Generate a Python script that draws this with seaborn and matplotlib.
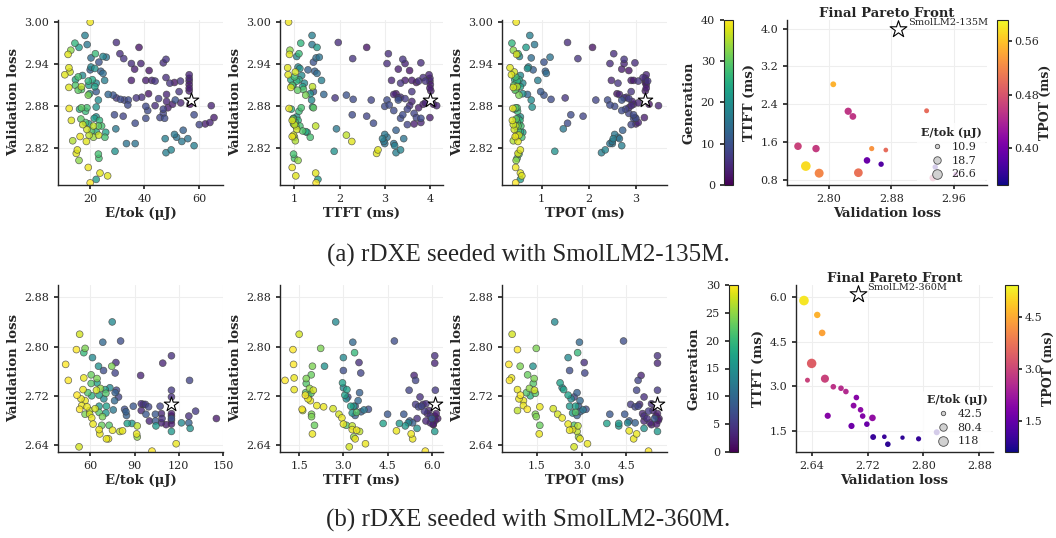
import matplotlib
matplotlib.use('Agg')
import matplotlib.pyplot as plt
from matplotlib.lines import Line2D
import numpy as np
import pandas as pd
import seaborn as sns

# ---- (a) all candidates, search seeded with SmolLM2-135M ----
loss_a = [3.000, 2.981, 2.970, 2.964, 2.968, 2.960, 2.954, 2.955, 2.951, 2.950,
          2.949, 2.943, 2.936, 2.935, 2.934, 2.932, 2.929, 2.925, 2.924, 2.922,
          2.918, 2.930, 2.927, 2.917, 2.916, 2.918, 2.913, 2.908, 2.910, 2.908,
          2.907, 2.903, 2.904, 2.896, 2.898, 2.910, 2.901, 2.889, 2.879, 2.877,
          2.878, 2.876, 2.878, 2.873, 2.860, 2.862, 2.854, 2.857, 2.855, 2.863,
          2.865, 2.860, 2.852, 2.852, 2.852, 2.847, 2.845, 2.844, 2.843, 2.837,
          2.839, 2.839, 2.836, 2.830, 2.836, 2.831, 2.818, 2.813, 2.812, 2.806,
          2.803, 2.793, 2.785, 2.781, 2.776, 2.771, 2.816, 2.971, 2.955, 2.948,
          2.941, 2.964, 2.941, 2.933, 2.931, 2.917, 2.917, 2.917, 2.916, 2.942,
          2.947, 2.921, 2.913, 2.914, 2.916, 2.925, 2.920, 2.916, 2.911, 2.906,
          2.902, 2.901, 2.897, 2.898, 2.892, 2.893, 2.892, 2.897, 2.896, 2.890,
          2.889, 2.889, 2.882, 2.868, 2.866, 2.856, 2.880, 2.874, 2.863, 2.881,
          2.891, 2.864, 2.876, 2.870, 2.863, 2.878, 2.883, 2.889, 2.887, 2.885,
          2.868, 2.883, 2.854, 2.855, 2.857, 2.864, 2.881, 2.827, 2.827, 2.834,
          2.814, 2.818, 2.840, 2.836, 2.830, 2.846, 2.834, 2.824, 2.848]
etok_a = [20.1, 18.2, 14.5, 16.0, 19.0, 13.0, 12.0, 22.0, 24.8, 26.0,
          20.4, 23.3, 20.4, 12.3, 21.8, 20.1, 12.7, 10.8, 17.3, 15.7,
          14.7, 24.0, 24.8, 25.4, 19.4, 20.9, 22.3, 21.8, 19.6, 16.9,
          12.3, 15.7, 16.9, 19.4, 19.9, 14.7, 22.3, 23.1, 22.3, 12.4,
          16.9, 16.2, 18.9, 18.4, 13.2, 16.7, 17.4, 18.4, 19.6, 21.6,
          22.3, 23.5, 24.3, 21.3, 23.1, 18.9, 20.6, 22.3, 25.8, 16.4,
          19.7, 23.2, 25.5, 18.7, 21.3, 13.7, 15.4, 15.0, 23.1, 23.3,
          16.0, 19.4, 23.7, 26.5, 22.3, 20.1, 29.2, 29.7, 31.0, 32.4,
          35.2, 38.0, 38.7, 36.4, 41.7, 35.2, 40.5, 42.7, 43.9, 46.9,
          47.9, 47.9, 49.3, 51.0, 53.2, 56.4, 56.4, 56.4, 56.4, 56.4,
          56.4, 52.7, 48.1, 41.5, 37.0, 39.0, 29.7, 26.7, 28.5, 31.2,
          32.6, 34.1, 33.9, 29.0, 32.2, 36.6, 40.5, 41.2, 40.5, 43.9,
          45.2, 45.7, 46.9, 46.9, 47.4, 48.6, 50.3, 51.3, 48.1, 53.3,
          58.2, 56.7, 60.1, 62.3, 64.0, 65.5, 64.5, 33.4, 36.6, 47.6,
          47.9, 49.8, 51.0, 51.8, 53.7, 54.2, 55.9, 58.2, 29.5]
ttft_a = [0.87, 1.39, 1.14, 1.50, 1.39, 0.90, 0.89, 1.10, 1.05, 1.55,
          1.48, 1.42, 1.08, 0.85, 1.12, 1.30, 1.02, 0.86, 1.16, 1.00,
          0.92, 1.45, 1.50, 1.60, 1.05, 1.10, 1.22, 1.18, 0.97, 1.40,
          0.92, 1.07, 1.20, 1.25, 1.35, 0.95, 1.42, 1.38, 1.40, 0.88,
          1.42, 0.93, 1.15, 1.10, 0.95, 0.97, 1.00, 1.02, 0.98, 0.98,
          1.05, 1.08, 1.12, 1.47, 1.03, 1.05, 1.18, 1.25, 1.28, 0.95,
          2.15, 0.98, 1.35, 2.27, 1.00, 1.02, 2.85, 2.82, 0.98, 1.00,
          1.08, 0.95, 1.47, 1.03, 1.52, 1.48, 1.88, 1.97, 3.08, 2.29,
          3.05, 2.60, 3.45, 3.30, 3.55, 3.45, 3.60, 3.15, 3.75, 3.80,
          3.40, 3.85, 3.35, 3.70, 3.90, 3.98, 4.00, 4.00, 4.01, 4.00,
          4.02, 3.60, 3.20, 3.25, 3.30, 3.35, 1.90, 1.65, 2.15, 2.30,
          2.70, 3.05, 3.10, 2.28, 2.60, 2.75, 3.00, 3.20, 3.35, 3.55,
          3.45, 3.70, 3.50, 3.65, 3.80, 3.75, 3.85, 3.30, 3.60, 3.90,
          3.40, 4.08, 3.50, 3.65, 3.80, 4.00, 4.15, 3.00, 3.20, 2.95,
          3.25, 3.35, 3.00, 3.05, 2.98, 3.25, 3.42, 3.22, 1.93]
tpot_a = [0.46, 0.75, 0.37, 0.67, 0.85, 0.40, 0.47, 0.50, 0.53, 1.18,
          0.78, 1.05, 0.72, 0.33, 0.70, 0.82, 0.42, 0.36, 0.55, 0.45,
          0.43, 1.08, 1.10, 0.92, 0.48, 0.52, 0.60, 0.55, 0.50, 0.48,
          0.40, 0.44, 0.46, 0.52, 0.60, 0.41, 0.98, 0.78, 0.80, 0.39,
          0.45, 0.43, 0.48, 0.49, 0.38, 0.46, 0.40, 0.48, 0.52, 0.50,
          0.55, 0.54, 0.56, 0.45, 0.50, 0.42, 0.50, 0.55, 0.60, 0.44,
          0.47, 0.52, 0.58, 0.50, 0.46, 0.40, 0.55, 0.50, 0.52, 0.48,
          0.46, 0.45, 0.55, 0.58, 0.55, 0.45, 1.28, 1.55, 2.53, 1.77,
          2.45, 2.08, 2.75, 2.70, 2.85, 2.90, 2.95, 2.48, 3.05, 2.98,
          2.75, 3.15, 2.62, 3.20, 3.25, 3.22, 3.20, 3.21, 3.22, 3.22,
          3.20, 2.90, 2.65, 2.60, 2.75, 2.80, 1.50, 0.70, 1.05, 1.20,
          2.15, 2.40, 2.45, 1.62, 1.88, 1.55, 2.55, 2.70, 2.95, 2.90,
          2.85, 2.98, 2.78, 2.85, 3.00, 2.85, 2.95, 2.70, 2.92, 3.05,
          2.95, 3.28, 2.90, 3.00, 3.05, 3.18, 3.48, 2.50, 2.45, 2.52,
          2.27, 2.35, 2.55, 2.62, 2.50, 2.72, 2.65, 2.70, 1.46]
gen_a = [39, 17, 26, 22, 16, 33, 38, 27, 18, 15,
         14, 10, 18, 38, 20, 12, 37, 38, 19, 28,
         24, 12, 14, 17, 26, 24, 19, 23, 22, 36,
         38, 30, 29, 32, 20, 29, 11, 19, 20, 39,
         30, 25, 28, 27, 38, 30, 37, 28, 22, 22,
         20, 26, 28, 36, 30, 37, 29, 25, 23, 39,
         36, 37, 28, 38, 34, 35, 38, 38, 28, 28,
         33, 39, 38, 38, 22, 40, 20, 5, 5, 6,
         5, 2, 4, 3, 2, 3, 3, 4, 6, 5,
         6, 5, 6, 2, 6, 4, 4, 3, 3, 3,
         3, 6, 4, 2, 6, 5, 6, 13, 10, 9,
         8, 9, 9, 9, 8, 9, 9, 9, 9, 5,
         7, 8, 8, 8, 9, 3, 3, 10, 4, 4,
         9, 2, 8, 3, 4, 3, 4, 15, 15, 17,
         17, 18, 16, 15, 16, 12, 15, 17, 16]

# ---- (b) all candidates, search seeded with SmolLM2-360M ----
loss_b = [2.840, 2.820, 2.807, 2.809, 2.795, 2.797, 2.790, 2.782, 2.771, 2.768,
          2.768, 2.761, 2.774, 2.754, 2.757, 2.749, 2.748, 2.745, 2.740, 2.730,
          2.741, 2.732, 2.730, 2.733, 2.729, 2.729, 2.721, 2.715, 2.712, 2.725,
          2.720, 2.721, 2.715, 2.724, 2.725, 2.718, 2.712, 2.703, 2.703, 2.704,
          2.702, 2.699, 2.696, 2.698, 2.690, 2.690, 2.693, 2.684, 2.692, 2.697,
          2.698, 2.686, 2.674, 2.672, 2.672, 2.665, 2.658, 2.664, 2.662, 2.663,
          2.650, 2.650, 2.637, 2.694, 2.688, 2.675, 2.675, 2.703, 2.671, 2.658, 2.653,
          2.753, 2.707, 2.706, 2.706, 2.696, 2.690, 2.702, 2.679, 2.630, 2.690,
          2.679, 2.671, 2.703, 2.691, 2.683, 2.676, 2.773, 2.673, 2.785, 2.729,
          2.718, 2.691, 2.687, 2.680, 2.674, 2.662, 2.683, 2.642, 2.676, 2.676,
          2.687, 2.667, 2.745, 2.695, 2.683]
etok_b = [74.8, 52.7, 68.4, 80.5, 50.5, 56.4, 55.5, 61.4, 43.2, 65.5,
          74.5, 68.9, 77.3, 60.5, 76.8, 55.5, 64.5, 45.0, 60.5, 55.0,
          64.5, 66.8, 70.0, 73.2, 77.7, 64.1, 50.9, 53.6, 56.4, 58.2,
          60.9, 65.9, 69.1, 70.5, 76.8, 79.1, 76.4, 70.9, 65.9, 54.1,
          57.7, 63.2, 59.5, 52.7, 56.4, 59.5, 65.9, 60.9, 70.5, 75.5,
          83.2, 68.2, 61.8, 67.7, 72.7, 65.9, 66.4, 75.0, 80.0, 81.8,
          70.9, 72.3, 52.3, 84.1, 84.5, 85.0, 88.2, 89.1, 91.8, 91.4, 91.8,
          94.1, 94.5, 95.9, 97.3, 94.5, 97.7, 99.5, 100.0, 101.8, 104.1,
          104.1, 104.5, 107.3, 108.2, 108.6, 108.2, 109.1, 111.4, 115.0, 115.0,
          115.0, 115.0, 115.0, 115.0, 115.0, 115.0, 115.0, 118.2, 121.8, 126.8,
          126.8, 127.7, 127.3, 131.4, 145.5]
ttft_b = [2.74, 1.50, 3.32, 4.73, 1.29, 2.23, 3.38, 3.00, 1.31, 2.36,
          1.95, 3.00, 3.53, 1.91, 3.59, 1.33, 1.74, 1.02, 1.74, 1.33,
          2.97, 1.85, 3.12, 3.00, 5.23, 1.98, 1.71, 1.80, 1.88, 1.72,
          1.80, 3.05, 3.10, 1.90, 3.55, 3.15, 3.50, 3.25, 3.35, 2.10,
          2.33, 2.65, 1.62, 1.60, 1.92, 2.85, 3.45, 2.95, 3.30, 3.70,
          3.85, 1.92, 3.00, 2.02, 3.10, 3.30, 1.95, 3.45, 3.55, 4.80,
          3.40, 5.35, 3.20, 3.60, 3.40, 4.35, 4.90, 3.40, 3.30, 5.30, 3.35,
          5.40, 5.80, 5.70, 5.45, 5.90, 4.50, 5.55, 5.80, 5.78, 5.05,
          5.25, 5.10, 5.65, 5.85, 5.50, 5.95, 6.10, 6.05, 6.10, 6.12,
          5.60, 6.15, 6.10, 6.12, 6.05, 6.10, 6.00, 3.75, 5.20, 5.35,
          5.95, 5.50, 5.45, 5.75, 6.20]
tpot_b = [2.10, 0.67, 2.93, 4.41, 0.85, 1.48, 2.87, 2.55, 0.56, 1.37,
          0.94, 2.60, 3.09, 1.19, 3.11, 0.65, 1.41, 0.58, 1.38, 0.85,
          2.28, 1.25, 2.40, 2.35, 4.85, 1.42, 0.95, 0.90, 1.05, 1.15,
          1.28, 2.55, 2.65, 1.45, 2.85, 2.75, 2.95, 2.80, 2.60, 1.05,
          1.60, 2.05, 0.85, 1.18, 1.45, 2.20, 2.80, 2.35, 2.70, 3.05,
          3.15, 1.48, 2.55, 1.60, 2.75, 2.70, 1.58, 2.60, 2.85, 4.60,
          2.95, 4.75, 2.75, 2.95, 2.85, 3.85, 4.25, 2.90, 2.88, 4.85, 2.90,
          5.00, 5.35, 4.95, 4.65, 5.40, 3.95, 4.80, 5.10, 5.25, 4.45,
          4.60, 4.25, 4.90, 5.05, 5.20, 5.30, 5.55, 5.35, 5.55, 5.55,
          5.10, 5.55, 5.50, 5.58, 5.52, 5.55, 5.45, 3.20, 4.55, 4.80,
          5.10, 5.10, 4.90, 5.25, 5.60]
gen_b = [14, 28, 10, 7, 30, 24, 20, 14, 30, 15,
         24, 7, 4, 23, 6, 29, 24, 30, 22, 29,
         17, 25, 17, 14, 6, 28, 30, 29, 29, 22,
         19, 17, 14, 22, 9, 6, 10, 17, 16, 29,
         29, 28, 27, 30, 24, 28, 22, 29, 16, 12,
         7, 24, 29, 23, 22, 29, 29, 29, 27, 29,
         29, 29, 28, 9, 9, 17, 16, 8, 27, 29, 25,
         3, 4, 3, 5, 3, 8, 6, 3, 30, 8,
         8, 16, 6, 3, 4, 3, 3, 2, 4, 5,
         4, 2, 2, 2, 2, 16, 8, 29, 14, 9,
         4, 15, 6, 5, 2]

# ---- final Pareto fronts ----
pf_loss_a = [2.761, 2.771, 2.784, 2.788, 2.806, 2.825, 2.831, 2.838, 2.849, 2.855, 2.867, 2.873, 2.925, 2.936, 2.933, 2.962]
pf_ttft_a = [1.51, 1.09, 1.46, 0.94, 2.82, 2.25, 2.14, 0.95, 1.21, 1.46, 1.13, 1.43, 2.26, 1.07, 0.84, 0.92]
pf_tpot_a = [0.465, 0.575, 0.46, 0.52, 0.55, 0.455, 0.455, 0.505, 0.395, 0.53, 0.38, 0.50, 0.50, 0.36, 0.47, 0.42]
pf_etok_a = [19.0, 26.6, 18.5, 24.0, 14.0, 18.0, 16.5, 23.0, 16.0, 12.5, 13.0, 11.5, 12.0, 13.0, 17.0, 10.9]

pf_loss_b = [2.629, 2.648, 2.655, 2.640, 2.634, 2.659, 2.671, 2.682, 2.689, 2.704, 2.700, 2.710,
             2.713, 2.727, 2.663, 2.697, 2.719, 2.728, 2.744, 2.749, 2.770, 2.793, 2.819]
pf_ttft_b = [5.87, 5.39, 4.79, 3.77, 3.21, 3.26, 2.99, 2.94, 2.83, 2.63, 2.36, 2.22,
             2.01, 1.95, 2.02, 1.68, 1.74, 1.31, 1.32, 1.07, 1.29, 1.25, 1.47]
pf_tpot_b = [5.2, 4.6, 4.4, 3.4, 2.95, 2.95, 2.7, 2.6, 2.55, 1.9, 2.0, 2.0,
             1.85, 2.05, 1.9, 1.6, 1.55, 1.0, 1.0, 0.85, 0.9, 0.95, 0.9]
pf_etok_b = [118, 65, 68, 115, 48, 90, 55, 55, 55, 55, 58, 55,
             55, 68, 62, 62, 55, 58, 45, 55, 42.5, 50, 60]

legend_etok = [[10.9, 18.7, 26.6], [42.5, 80.4, 118]]

# seed models
seed_names = ['SmolLM2-135M', 'SmolLM2-360M']
seed_loss = [2.889, 2.706]
seed_etok = [57.0, 115.0]
seed_ttft = [4.0, 6.1]
seed_tpot = [3.2, 5.55]

captions = ['(a) rDXE seeded with SmolLM2-135M.', '(b) rDXE seeded with SmolLM2-360M.']

cands = [pd.DataFrame({'loss': loss_a, 'etok': etok_a, 'ttft': ttft_a, 'tpot': tpot_a, 'gen': gen_a}),
         pd.DataFrame({'loss': loss_b, 'etok': etok_b, 'ttft': ttft_b, 'tpot': tpot_b, 'gen': gen_b})]
fronts = [pd.DataFrame({'loss': pf_loss_a, 'ttft': pf_ttft_a, 'tpot': pf_tpot_a, 'etok': pf_etok_a}),
          pd.DataFrame({'loss': pf_loss_b, 'ttft': pf_ttft_b, 'tpot': pf_tpot_b, 'etok': pf_etok_b})]

sns.set_theme(style='ticks')
plt.rcParams['font.family'] = ['DejaVu Serif']
plt.rcParams.update({
    'xtick.labelsize': 8, 'ytick.labelsize': 8,
    'axes.edgecolor': '0.15', 'axes.linewidth': 1.0,
    'xtick.major.size': 3, 'ytick.major.size': 3,
})

W, H = 1056, 538


def box(x0, y0, x1, y1):
    return [x0 / W, 1 - y1 / H, (x1 - x0) / W, (y1 - y0) / H]


# per-row layout (pixels) and axis settings
layout = [
    dict(y=(20, 185), scat_x=[(58, 223), (280, 443), (502, 667)], gen_cb=(724, 733), pf=(787, 987), tpot_cb=(997, 1008),
         xlims=[(8.3, 68.8), (0.68, 4.29), (0.16, 3.66)], xticks=[[20, 40, 60], [1, 2, 3, 4], [1, 2, 3]],
         ylim=(2.768, 3.003), yticks=[2.82, 2.88, 2.94, 3.00],
         gen_max=40, gen_ticks=[0, 10, 20, 30, 40],
         tpot_norm=(0.345, 0.592), tpot_ticks=[0.40, 0.48, 0.56], tpot_fmt='{:.2f}',
         pf_xlim=(2.747, 3.002), pf_xticks=[2.80, 2.88, 2.96], pf_ylim=(0.69, 4.18), pf_yticks=[0.8, 1.6, 2.4, 3.2, 4.0],
         cap_y=255),
    dict(y=(285, 452), scat_x=[(58, 223), (280, 443), (502, 667)], gen_cb=(729, 738), pf=(796, 993), tpot_cb=(1005, 1018),
         xlims=[(38, 150), (0.85, 6.38), (0.33, 5.87)], xticks=[[60, 90, 120, 150], [1.5, 3.0, 4.5, 6.0], [1.5, 3.0, 4.5]],
         ylim=(2.6286, 2.900), yticks=[2.64, 2.72, 2.80, 2.88],
         gen_max=30, gen_ticks=[0, 5, 10, 15, 20, 25, 30],
         tpot_norm=(0.6, 5.42), tpot_ticks=[1.5, 3.0, 4.5], tpot_fmt='{:.1f}',
         pf_xlim=(2.6176, 2.8995), pf_xticks=[2.64, 2.72, 2.80, 2.88], pf_ylim=(0.81, 6.39), pf_yticks=[1.5, 3.0, 4.5, 6.0],
         cap_y=520),
]

scat_cols = ['etok', 'ttft', 'tpot']
scat_labels = ['E/tok (μJ)', 'TTFT (ms)', 'TPOT (ms)']
seed_vals = {'etok': seed_etok, 'ttft': seed_ttft, 'tpot': seed_tpot}
size_range = (10, 48)

fig = plt.figure(figsize=(10.56, 5.38), dpi=100)

for r, lay in enumerate(layout):
    y0, y1 = lay['y']
    df = cands[r].sort_values('gen')

    for k, col in enumerate(scat_cols):
        x0, x1 = lay['scat_x'][k]
        ax = fig.add_axes(box(x0, y0, x1, y1))
        sns.scatterplot(data=df, x=col, y='loss', hue='gen', palette='viridis',
                        hue_norm=(0, lay['gen_max']), s=24, alpha=0.78,
                        edgecolor='0.25', linewidth=0.5, legend=False, ax=ax)
        ax.scatter(seed_vals[col][r], seed_loss[r], marker='*', s=120,
                   facecolor='white', edgecolor='black', linewidth=0.8, zorder=5)
        ax.set_xlim(lay['xlims'][k])
        ax.set_xticks(lay['xticks'][k])
        ax.set_ylim(lay['ylim'])
        ax.set_yticks(lay['yticks'])
        ax.yaxis.set_major_formatter(matplotlib.ticker.FormatStrFormatter('%.2f'))
        ax.grid(True, color='#eeeeee', lw=0.8)
        ax.set_axisbelow(True)
        ax.set_xlabel(scat_labels[k], fontsize=9.5, fontweight='bold', labelpad=2)
        ax.set_ylabel('Validation loss', fontsize=9.5, fontweight='bold', labelpad=3)
        sns.despine(ax=ax)

    # generation colorbar
    cax = fig.add_axes(box(lay['gen_cb'][0], y0, lay['gen_cb'][1], y1))
    sm = plt.cm.ScalarMappable(norm=plt.Normalize(0, lay['gen_max']), cmap='viridis')
    cb = fig.colorbar(sm, cax=cax)
    cb.set_ticks(lay['gen_ticks'])
    cax.yaxis.set_ticks_position('left')
    cax.yaxis.set_label_position('left')
    cb.set_label('Generation', fontsize=9.5, fontweight='bold', labelpad=4)
    cb.outline.set_linewidth(0.8)

    # final Pareto front
    front = fronts[r]
    leg_vals = legend_etok[r]
    ax = fig.add_axes(box(lay['pf'][0], y0, lay['pf'][1], y1))
    sns.scatterplot(data=front, x='loss', y='ttft', hue='tpot', size='etok',
                    palette='plasma', hue_norm=lay['tpot_norm'],
                    sizes=size_range, size_norm=(leg_vals[0], leg_vals[-1]),
                    linewidth=0, legend=False, ax=ax)
    ax.scatter(seed_loss[r], seed_ttft[r], marker='*', s=160,
               facecolor='white', edgecolor='black', linewidth=0.8, zorder=5)
    ax.annotate(seed_names[r], (seed_loss[r], seed_ttft[r]), xytext=(7, 1),
                textcoords='offset points', fontsize=7, ha='left', va='bottom')
    ax.set_xlim(lay['pf_xlim'])
    ax.set_xticks(lay['pf_xticks'])
    ax.set_ylim(lay['pf_ylim'])
    ax.set_yticks(lay['pf_yticks'])
    ax.xaxis.set_major_formatter(matplotlib.ticker.FormatStrFormatter('%.2f'))
    ax.yaxis.set_major_formatter(matplotlib.ticker.FormatStrFormatter('%.1f'))
    ax.grid(True, color='#eeeeee', lw=0.8)
    ax.set_axisbelow(True)
    ax.set_title('Final Pareto Front', fontsize=9.5, fontweight='bold', pad=1)
    ax.set_xlabel('Validation loss', fontsize=9.5, fontweight='bold', labelpad=2)
    ax.set_ylabel('TTFT (ms)', fontsize=9.5, fontweight='bold', labelpad=3)
    sns.despine(ax=ax)

    smin, smax = size_range
    handles = []
    for v in leg_vals:
        s = smin + (v - leg_vals[0]) / (leg_vals[-1] - leg_vals[0]) * (smax - smin)
        handles.append(Line2D([], [], marker='o', ls='', markersize=np.sqrt(s),
                              markerfacecolor='0.82', markeredgecolor='0.3', markeredgewidth=0.6))
    ax.legend(handles, [f'{v:g}' for v in leg_vals], title='E/tok (μJ)', loc='lower right',
              fontsize=8, title_fontproperties={'weight': 'bold', 'size': 8},
              frameon=True, framealpha=0.8, edgecolor='none', borderaxespad=0.2,
              handletextpad=0.3, labelspacing=0.35, borderpad=0.3)

    # TPOT colorbar
    cax = fig.add_axes(box(lay['tpot_cb'][0], y0, lay['tpot_cb'][1], y1))
    sm = plt.cm.ScalarMappable(norm=plt.Normalize(*lay['tpot_norm']), cmap='plasma')
    cb = fig.colorbar(sm, cax=cax)
    cb.set_ticks(lay['tpot_ticks'])
    cb.set_ticklabels([lay['tpot_fmt'].format(t) for t in lay['tpot_ticks']])
    cax.tick_params(pad=1.5)
    cb.set_label('TPOT (ms)', fontsize=9, fontweight='bold', labelpad=0)
    cb.outline.set_linewidth(0.8)

    fig.text(0.5, 1 - lay['cap_y'] / H, captions[r], ha='center', va='center',
             fontsize=18, family=['Liberation Serif', 'DejaVu Serif'])

fig.savefig('out.png', dpi=100)
